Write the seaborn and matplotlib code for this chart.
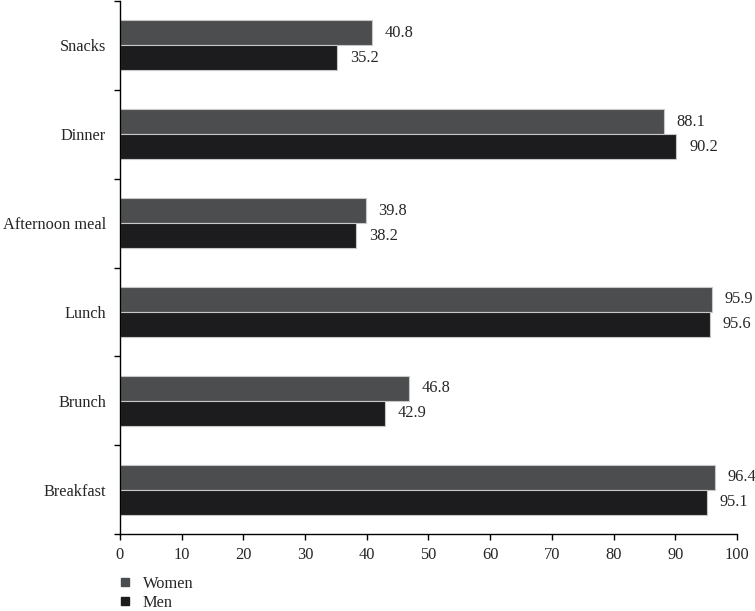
import matplotlib
matplotlib.use("Agg")
import matplotlib.pyplot as plt
import seaborn as sns
import pandas as pd
from matplotlib.ticker import FixedLocator
from matplotlib.lines import Line2D

categories = ["Snacks", "Dinner", "Afternoon meal", "Lunch", "Brunch", "Breakfast"]
women = [40.8, 88.1, 39.8, 95.9, 46.8, 96.4]
men = [35.2, 90.2, 38.2, 95.6, 42.9, 95.1]
series = ["Women", "Men"]
colors = {"Women": "#4a4d50", "Men": "#1c1c1e"}

rows = []
for c, w, m in zip(categories, women, men):
    rows.append({"meal": c, "sex": "Women", "value": w})
    rows.append({"meal": c, "sex": "Men", "value": m})
df = pd.DataFrame(rows)

sns.set_style("white")
plt.rcParams["font.family"] = ["Liberation Serif", "DejaVu Serif"]
FS = 11.8

fig = plt.figure(figsize=(7.55, 6.11), dpi=100)
ax = fig.add_axes([0.1589, 0.126, 0.8172, 0.8723])

sns.barplot(data=df, y="meal", x="value", hue="sex", order=categories,
            hue_order=series, palette=colors, width=0.563, orient="h",
            edgecolor="#c8c8c8", linewidth=0.8, legend=False, ax=ax)

for cont in ax.containers:
    ax.bar_label(cont, fmt="%.1f", padding=9.4, fontsize=FS)

ax.set_xlim(0, 100)
ax.set_ylim(len(categories) - 0.5, -0.5)
ax.set_xticks(range(0, 101, 10))
ax.set_xlabel("")
ax.set_ylabel("")
ax.yaxis.set_minor_locator(FixedLocator([i - 0.5 for i in range(len(categories) + 1)]))
ax.tick_params(axis="y", which="major", length=0, labelsize=FS, pad=10)
ax.tick_params(axis="y", which="minor", length=4.3, width=1, color="black", direction="out", left=True)
ax.tick_params(axis="x", length=4.3, width=1, color="black", direction="out", labelsize=FS, bottom=True, pad=5)
for s in ["top", "right"]:
    ax.spines[s].set_visible(False)
for s in ["left", "bottom"]:
    ax.spines[s].set_color("black")
    ax.spines[s].set_linewidth(1)

handles = [Line2D([], [], marker="s", linestyle="none", markersize=5.8,
                  markerfacecolor=colors[s], markeredgecolor=colors[s]) for s in series]
fig.legend(handles, series, loc="upper left", bbox_to_anchor=(0.1564, 0.058),
           frameon=False, fontsize=FS, handletextpad=0.69, labelspacing=0.2,
           handlelength=0.8, borderaxespad=0, borderpad=0)

fig.savefig("out.png", dpi=100)
